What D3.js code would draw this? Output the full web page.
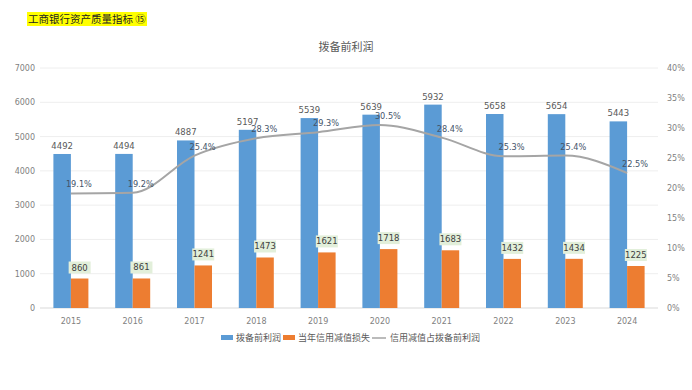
<!DOCTYPE html>
<html>
<head>
<meta charset="utf-8">
<script src="https://cdn.jsdelivr.net/npm/d3@7"></script>
<style>
  body { margin: 0; background: #fff; }
  svg { display: block; font-family: "Noto Sans CJK SC", "DejaVu Sans", sans-serif; }
</style>
</head>
<body>
<svg id="chart"></svg>
<script>
// 数据
const years = ["2015", "2016", "2017", "2018", "2019", "2020", "2021", "2022", "2023", "2024"];
const profit = [4492, 4494, 4887, 5197, 5539, 5639, 5932, 5658, 5654, 5443]; // 拨备前利润
const impairment = [860, 861, 1241, 1473, 1621, 1718, 1683, 1432, 1434, 1225]; // 当年信用减值损失
const ratio = [19.1, 19.2, 25.4, 28.3, 29.3, 30.5, 28.4, 25.3, 25.4, 22.5]; // 信用减值占拨备前利润
const leftTicks = [0, 1000, 2000, 3000, 4000, 5000, 6000, 7000];
const rightTicks = [0, 5, 10, 15, 20, 25, 30, 35, 40];

const width = 692, height = 390;
const margin = { left: 40, right: 34, top: 68, bottom: 82 };

const svg = d3.select("#chart").attr("width", width).attr("height", height);

// 顶部标注
const noteText = "工商银行资产质量指标 ⑮";
svg.append("rect")
    .attr("x", 27).attr("y", 12).attr("width", 120).attr("height", 14)
    .attr("fill", "#ffff00");
svg.append("text")
    .attr("x", 28).attr("y", 23)
    .attr("font-size", 10.5)
    .attr("fill", "#222")
    .text(noteText);

// 标题
svg.append("text")
    .attr("x", 346).attr("y", 51)
    .attr("text-anchor", "middle")
    .attr("font-size", 11)
    .attr("fill", "#595959")
    .text("拨备前利润");

const x = d3.scaleBand()
    .domain(years)
    .range([margin.left, width - margin.right]);

const xInner = d3.scaleBand()
    .domain(["profit", "impairment"])
    .range([x.bandwidth() / 2 - 17.5, x.bandwidth() / 2 + 17.5]);

const y = d3.scaleLinear()
    .domain([0, 7000])
    .range([height - margin.bottom, margin.top]);

const y2 = d3.scaleLinear()
    .domain([0, 40])
    .range([height - margin.bottom, margin.top]);

// 网格线
svg.append("g")
    .selectAll("line")
    .data(leftTicks)
    .enter()
    .append("line")
    .attr("x1", margin.left)
    .attr("x2", width - margin.right)
    .attr("y1", d => y(d))
    .attr("y2", d => y(d))
    .attr("stroke", d => d === 0 ? "#d9d9d9" : "#eeeeee")
    .attr("stroke-width", 1);

// 左轴
const leftAxis = svg.append("g")
    .attr("transform", `translate(${margin.left - 5},0)`)
    .call(d3.axisLeft(y).tickValues(leftTicks).tickSize(0).tickPadding(0).tickFormat(d3.format("d")));
leftAxis.select(".domain").remove();
leftAxis.selectAll("text").attr("font-size", 8).attr("fill", "#7f7f7f").attr("font-family", "DejaVu Sans, sans-serif");

// 右轴
const rightAxis = svg.append("g")
    .attr("transform", `translate(${width - margin.right + 9},0)`)
    .call(d3.axisRight(y2).tickValues(rightTicks).tickSize(0).tickPadding(0).tickFormat(d => d + "%"));
rightAxis.select(".domain").remove();
rightAxis.selectAll("text").attr("font-size", 8).attr("fill", "#7f7f7f").attr("font-family", "DejaVu Sans, sans-serif");

// X 轴
const bottomAxis = svg.append("g")
    .attr("transform", `translate(0,${height - margin.bottom + 5})`)
    .call(d3.axisBottom(x).tickSize(0).tickPadding(5));
bottomAxis.select(".domain").remove();
bottomAxis.selectAll("text").attr("font-size", 8).attr("fill", "#7f7f7f").attr("font-family", "DejaVu Sans, sans-serif");

// 柱子
const groups = svg.append("g")
    .selectAll("g")
    .data(years.map((yr, i) => ({ yr, profit: profit[i], impairment: impairment[i] })))
    .enter()
    .append("g")
    .attr("transform", d => `translate(${x(d.yr)},0)`);

groups.append("rect")
    .attr("x", xInner("profit"))
    .attr("width", xInner.bandwidth())
    .attr("y", d => y(d.profit))
    .attr("height", d => y(0) - y(d.profit))
    .attr("fill", "#5b9bd5");

groups.append("rect")
    .attr("x", xInner("impairment"))
    .attr("width", xInner.bandwidth())
    .attr("y", d => y(d.impairment))
    .attr("height", d => y(0) - y(d.impairment))
    .attr("fill", "#ed7d31");

// 拨备前利润标签
groups.append("text")
    .attr("x", xInner("profit") + xInner.bandwidth() / 2)
    .attr("y", d => y(d.profit) - 5)
    .attr("text-anchor", "middle")
    .attr("font-size", 8.5)
    .attr("fill", "#595959")
    .attr("font-family", "DejaVu Sans, sans-serif")
    .text(d => d.profit);

// 减值损失标签（带浅绿底框）
const cx = xInner("impairment") + xInner.bandwidth() / 2;
groups.append("rect")
    .attr("x", cx - 11)
    .attr("y", d => y(d.impairment) - 17)
    .attr("width", 22)
    .attr("height", 12)
    .attr("fill", "#e2efda");
groups.append("text")
    .attr("x", cx)
    .attr("y", d => y(d.impairment) - 8)
    .attr("text-anchor", "middle")
    .attr("font-size", 8.5)
    .attr("fill", "#404040")
    .attr("font-family", "DejaVu Sans, sans-serif")
    .text(d => d.impairment);

// 折线
const center = d => x(d) + x.bandwidth() / 2;
const line = d3.line()
    .x((d, i) => center(years[i]))
    .y(d => y2(d))
    .curve(d3.curveMonotoneX);

svg.append("path")
    .datum(ratio)
    .attr("d", line)
    .attr("fill", "none")
    .attr("stroke", "#a5a5a5")
    .attr("stroke-width", 2);

svg.append("g")
    .selectAll("text")
    .data(ratio)
    .enter()
    .append("text")
    .attr("x", (d, i) => center(years[i]) + 8)
    .attr("y", d => y2(d) - 6)
    .attr("text-anchor", "middle")
    .attr("font-size", 8.2)
    .attr("fill", "#44546a")
    .attr("font-family", "DejaVu Sans, sans-serif")
    .text(d => d.toFixed(1) + "%");

// 图例
const legend = svg.append("g").attr("transform", "translate(221,338)");
legend.append("rect").attr("x", 0).attr("y", -3).attr("width", 12).attr("height", 5).attr("fill", "#5b9bd5");
legend.append("text").attr("x", 15).attr("y", 3).attr("font-size", 9).attr("fill", "#595959").text("拨备前利润");
legend.append("rect").attr("x", 62).attr("y", -3).attr("width", 12).attr("height", 5).attr("fill", "#ed7d31");
legend.append("text").attr("x", 77).attr("y", 3).attr("font-size", 9).attr("fill", "#595959").text("当年信用减值损失");
legend.append("line").attr("x1", 151).attr("x2", 165).attr("y1", 0).attr("y2", 0).attr("stroke", "#a5a5a5").attr("stroke-width", 1.5);
legend.append("text").attr("x", 169).attr("y", 3).attr("font-size", 9).attr("fill", "#595959").text("信用减值占拨备前利润");
</script>
</body>
</html>
